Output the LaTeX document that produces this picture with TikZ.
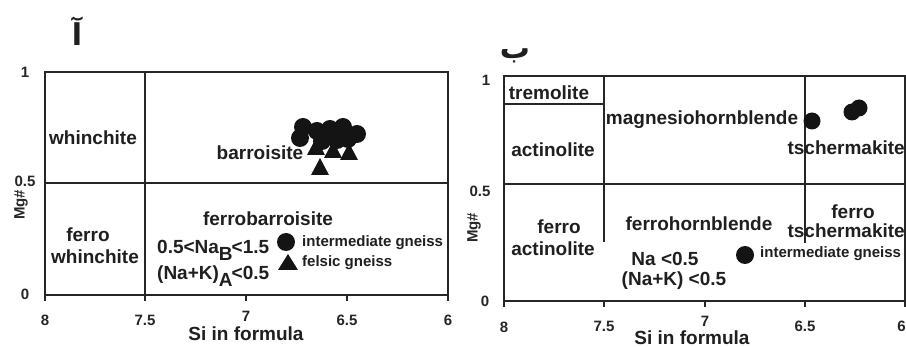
\documentclass[tikz,border=0pt]{standalone}
\usepackage{fontspec}
\setmainfont{Liberation Sans}
\newfontfamily\arabicfont[Script=Arabic]{DejaVu Sans}
\TeXXeTstate=1
\begin{document}
\begin{tikzpicture}[x=1pt,y=-1pt,
  lbl/.style={font=\fontsize{19}{21}\selectfont\bfseries, inner sep=0pt, text=black!88},
  leg/.style={font=\fontsize{15}{17}\selectfont\bfseries, inner sep=0pt, anchor=west, text=black!88},
  tck/.style={font=\fontsize{15}{17}\selectfont\bfseries, inner sep=0pt, text=black!85},
  arb/.style={font=\arabicfont\bfseries\fontsize{30}{32}\selectfont, inner sep=0pt, text=black!88},
  frm/.style={line width=1.4pt, draw=black!85},
  axs/.style={line width=2pt, draw=black!85},
  dot/.style={fill=black!92},
]
\useasboundingbox[fill=white] (0,0) rectangle (906,347);

% ---------------- left plot ----------------
\draw[frm] (45,72) rectangle (448,295);
\draw[frm] (145,72) -- (145,295);
\draw[frm] (45,183) -- (448,183);
\draw[axs] (45,295) -- (448,295);
\foreach \x in {45,145,246,347,448} \draw[frm] (\x,295) -- (\x,301);

\node[tck] (l1) at (25,72) {1};
\node[tck] (l05) at (25,181) {0.5};
\node[tck] (l0) at (25,294) {0};
\node[tck, rotate=90] (lmg) at (21,205) {Mg\#};
\node[tck] (lx8) at (45,320) {8};
\node[tck] (lx75) at (145,320) {7.5};
\node[tck] (lx7) at (246,316) {7};
\node[tck] (lx65) at (347,320) {6.5};
\node[tck] (lx6) at (448,320) {6};
\node[lbl] (lsi) at (246,334) {Si in formula};

\node[arb] (la) at (77,31) {\beginR آ\endR};

\node[lbl] (whin) at (93,138) {whinchite};
\node[lbl] (barr) at (260,153) {barroisite};
\node[lbl] (fw1) at (88,235) {ferro};
\node[lbl] (fw2) at (95,257) {whinchite};
\node[lbl] (fbarr) at (268,219) {ferrobarroisite};
\node[lbl, anchor=base west] (cond1) at (157,254) {0.5<Na\raisebox{-7pt}{B}\kern-1pt<1.5};
\node[lbl, anchor=base west] (cond2) at (157,280) {(Na+K)\raisebox{-7pt}{A}\kern-1pt<0.5};

% data left
\foreach \p in {(303,127),(300,138),(317,131),(330,129),(343,127),(357,134),(322,141),(337,140),(348,139)}
  \fill[dot] \p circle (9);
\foreach \cx/\cy in {316/147,333/150,349/152,320/167}
  \fill[dot] (\cx-9,\cy+8) -- (\cx+9,\cy+8) -- (\cx,\cy-9) -- cycle;

% legend left
\fill[dot] (286,242) circle (9);
\fill[dot] (278,270) -- (298,270) -- (288,254) -- cycle;
\node[leg] (lg1) at (302,243) {intermediate gneiss};
\node[leg] (lg2) at (302,263) {felsic gneiss};

% ---------------- right plot ----------------
\draw[frm] (504,76) rectangle (905,301);
\draw[frm] (504,184) -- (905,184);
\draw[frm] (504,104) -- (604,104);
\draw[frm] (604,76) -- (604,242);
\draw[frm] (805,76) -- (805,243);
\draw[axs] (504,301) -- (905,301);
\foreach \x in {504,604,705,805,905} \draw[frm] (\x,301) -- (\x,307);

\node[tck] (r1) at (486,80) {1};
\node[tck] (r05) at (480,191) {0.5};
\node[tck] (r0) at (485,301) {0};
\node[tck, rotate=90] (rmg) at (474,228) {Mg\#};
\node[tck] (rx8) at (504,327) {8};
\node[tck] (rx75) at (604,326) {7.5};
\node[tck] (rx7) at (705,321) {7};
\node[tck] (rx65) at (805,326) {6.5};
\node[tck, anchor=east] (rx6) at (906,326) {6};
\node[lbl] (rsi) at (692,338) {Si in formula};

\node[arb] (rb) at (515,56) {\beginR ب\endR};

\node[lbl] (trem) at (549,93) {tremolite};
\node[lbl] (mgh) at (702,120) {magnesiohornblende};
\node[lbl] (act) at (553,150) {actinolite};
\node[lbl, anchor=east] (tsch) at (905,148) {tschermakite};
\node[lbl] (fa1) at (559,227) {ferro};
\node[lbl] (fa2) at (553,249) {actinolite};
\node[lbl] (fhb) at (699,224) {ferrohornblende};
\node[lbl] (ft1) at (853,212) {ferro};
\node[lbl, anchor=east] (ft2) at (905,231) {tschermakite};
\node[lbl] (na1) at (665,259) {Na <0.5};
\node[lbl] (na2) at (674,281) {(Na+K) <0.5};

\fill[dot] (812,121) circle (8.5);
\fill[dot] (852,112) circle (8.5);
\fill[dot] (859,108) circle (8.5);

\fill[dot] (745,255) circle (9);
\node[leg] (rg1) at (760,254) {intermediate gneiss};
\end{tikzpicture}
\end{document}
